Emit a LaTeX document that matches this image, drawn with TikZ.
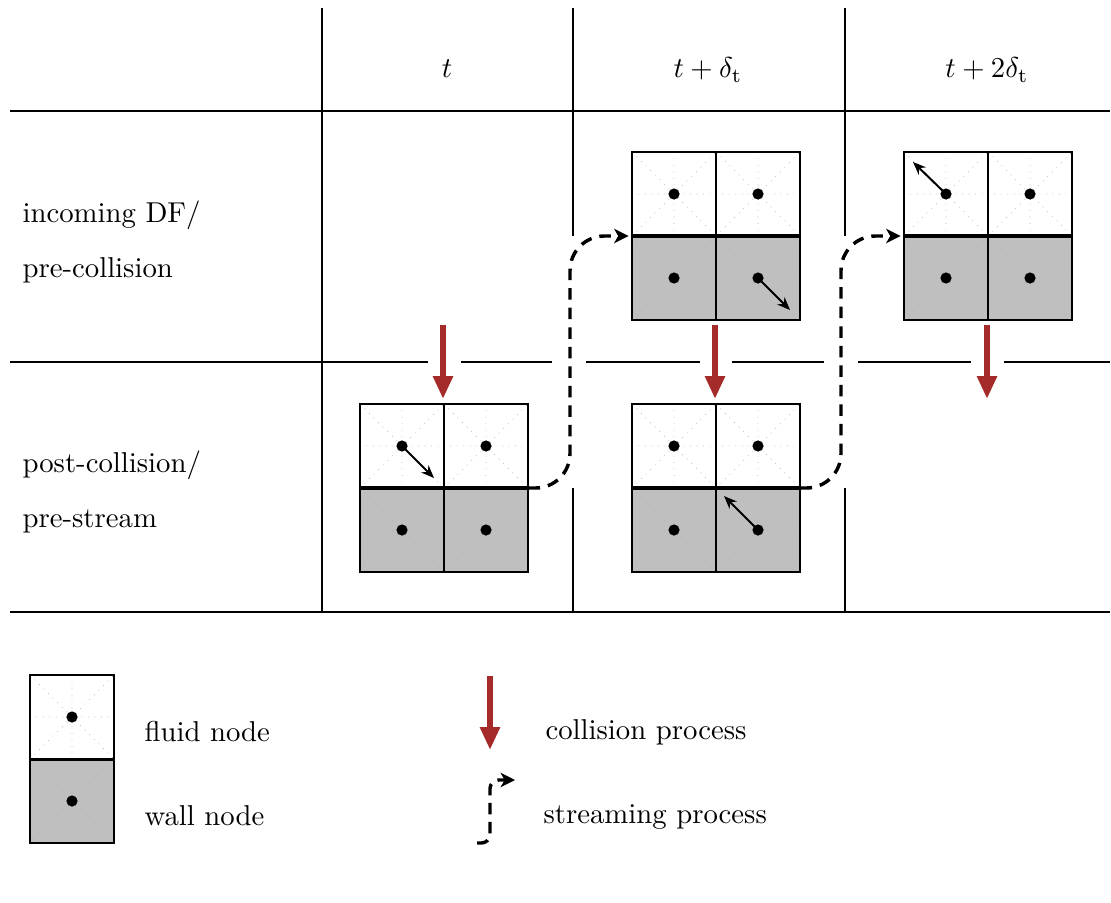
\documentclass[tikz,border=0pt]{standalone}
\usetikzlibrary{arrows.meta,calc}
\definecolor{collred}{RGB}{165,42,42}
\definecolor{wallgray}{RGB}{191,191,191}
\begin{document}
\begin{tikzpicture}[x=0.348pt,y=-0.348pt,
  grid/.style={line width=0.55pt},
  cellframe/.style={line width=0.6pt},
  guide/.style={draw=black!30,line width=0.25pt,dotted},
  interface/.style={line width=1.3pt},
  collide/.style={draw=collred,line width=2.1pt,-{Triangle[width=6.6pt,length=8pt]}},
  stream/.style={line width=1.2pt,dash pattern=on 4pt off 2.8pt,rounded corners=12pt,
                 -{Stealth[length=5pt,width=5pt,inset=1.4pt]}},
  velo/.style={line width=0.7pt,-{Stealth[length=4.5pt,width=3.6pt]}},
  blockbox/.style={rectangle,inner sep=0pt,minimum width=58.46pt,minimum height=58.46pt},
  cellbox/.style={rectangle,inner sep=0pt,minimum width=29.23pt,minimum height=29.23pt},
  rowtext/.style={anchor=base west,inner sep=0pt},
  head/.style={anchor=base,inner sep=0pt},
  % one lattice cell: fill, D2Q9 guide lines, frame and the lattice site
  pics/latcell/.style={code={
    \fill[#1] (-42,-42) rectangle (42,42);
    \draw[guide] (-42,0) -- (42,0) (0,-42) -- (0,42)
                 (-42,-42) -- (42,42) (-42,42) -- (42,-42);
    \draw[cellframe] (-42,-42) rectangle (42,42);
    \fill (0,0) circle[radius=5.6];
  }},
  % 2x2 block: two fluid cells above two wall cells
  pics/quad/.style={code={
    \pic at (-42,-42) {latcell=white};
    \pic at (42,-42) {latcell=white};
    \pic at (-42,42) {latcell=wallgray};
    \pic at (42,42) {latcell=wallgray};
    \draw[interface] (-84,0) -- (84,0);
  }}
]
\useasboundingbox (0,0) rectangle (1111,902);

% table rules
\draw[grid] (10,111) -- (1110,111);
\draw[grid] (10,612) -- (1110,612);
\draw[grid] (322,8) -- (322,612);
\draw[grid] (573,8) -- (573,236) (573,488) -- (573,612);
\draw[grid] (845,8) -- (845,236) (845,488) -- (845,612);
\draw[grid] (10,362) -- (428,362) (461,362) -- (552,362)
            (586,362) -- (700,362) (732,362) -- (824,362)
            (858,362) -- (971,362) (1004,362) -- (1110,362);

% column heads
\node[head] (h1) at (447,78) {$t$};
\node[head] (h2) at (708,78) {$t+\delta_{\mathrm{t}}$};
\node[head] (h3) at (987,78) {$t+2\delta_{\mathrm{t}}$};

% row heads
\node[rowtext] (r1a) at (22,222) {incoming DF/};
\node[rowtext] (r1b) at (22,277) {pre-collision};
\node[rowtext] (r2a) at (22,472) {post-collision/};
\node[rowtext] (r2b) at (22,527) {pre-stream};

% lattice blocks
\node[blockbox] (b1) at (444,488) {};
\node[blockbox] (b2) at (716,236) {};
\node[blockbox] (b3) at (716,488) {};
\node[blockbox] (b4) at (988,236) {};
\pic at (b1.center) {quad};
\pic at (b2.center) {quad};
\pic at (b3.center) {quad};
\pic at (b4.center) {quad};

% distribution functions
\draw[velo] (b1.center) ++(-42,-42) -- ++(32,32);
\draw[velo] (b2.center) ++(42,42) -- ++(32,32);
\draw[velo] (b3.center) ++(42,42) -- ++(-34,-34);
\draw[velo] (b4.center) ++(-42,-42) -- ++(-33,-32);

% collision steps
\coordinate (c1a) at (443,325); \coordinate (c1b) at (443,399);
\coordinate (c2a) at (715,325); \coordinate (c2b) at (715,399);
\coordinate (c3a) at (987,325); \coordinate (c3b) at (987,399);
\draw[collide] (c1a) -- (c1b);
\draw[collide] (c2a) -- (c2b);
\draw[collide] (c3a) -- (c3b);

% streaming steps
\coordinate (s1) at (570,0);
\coordinate (s2) at (841,0);
\draw[stream,shorten >=1pt] (b1.east) -| (s1 |- b2.west) -- (b2.west);
\draw[stream,shorten >=1pt] (b3.east) -| (s2 |- b4.west) -- (b4.west);

% legend
\node[cellbox] (lf) at (72,717) {};
\node[cellbox] (lw) at (72,801) {};
\pic at (lf.center) {latcell=white};
\pic at (lw.center) {latcell=wallgray};
\draw[interface] (lf.south west) -- (lf.south east);
\node[rowtext] (tf) at (144,741) {fluid node};
\node[rowtext] (tw) at (144,825) {wall node};

\coordinate (lc0) at (490,676); \coordinate (lc1) at (490,750);
\draw[collide] (lc0) -- (lc1);
\node[rowtext] (tc) at (545,739) {collision process};

\coordinate (ls0) at (477,843); \coordinate (ls1) at (515,780);
\coordinate (ls2) at (490,780);
\draw[stream,rounded corners=3pt,dash pattern=on 4pt off 2.6pt]
  (ls0) -| (ls2) -- (ls1);
\node[rowtext] (ts) at (543,823) {streaming process};
\end{tikzpicture}
\end{document}
